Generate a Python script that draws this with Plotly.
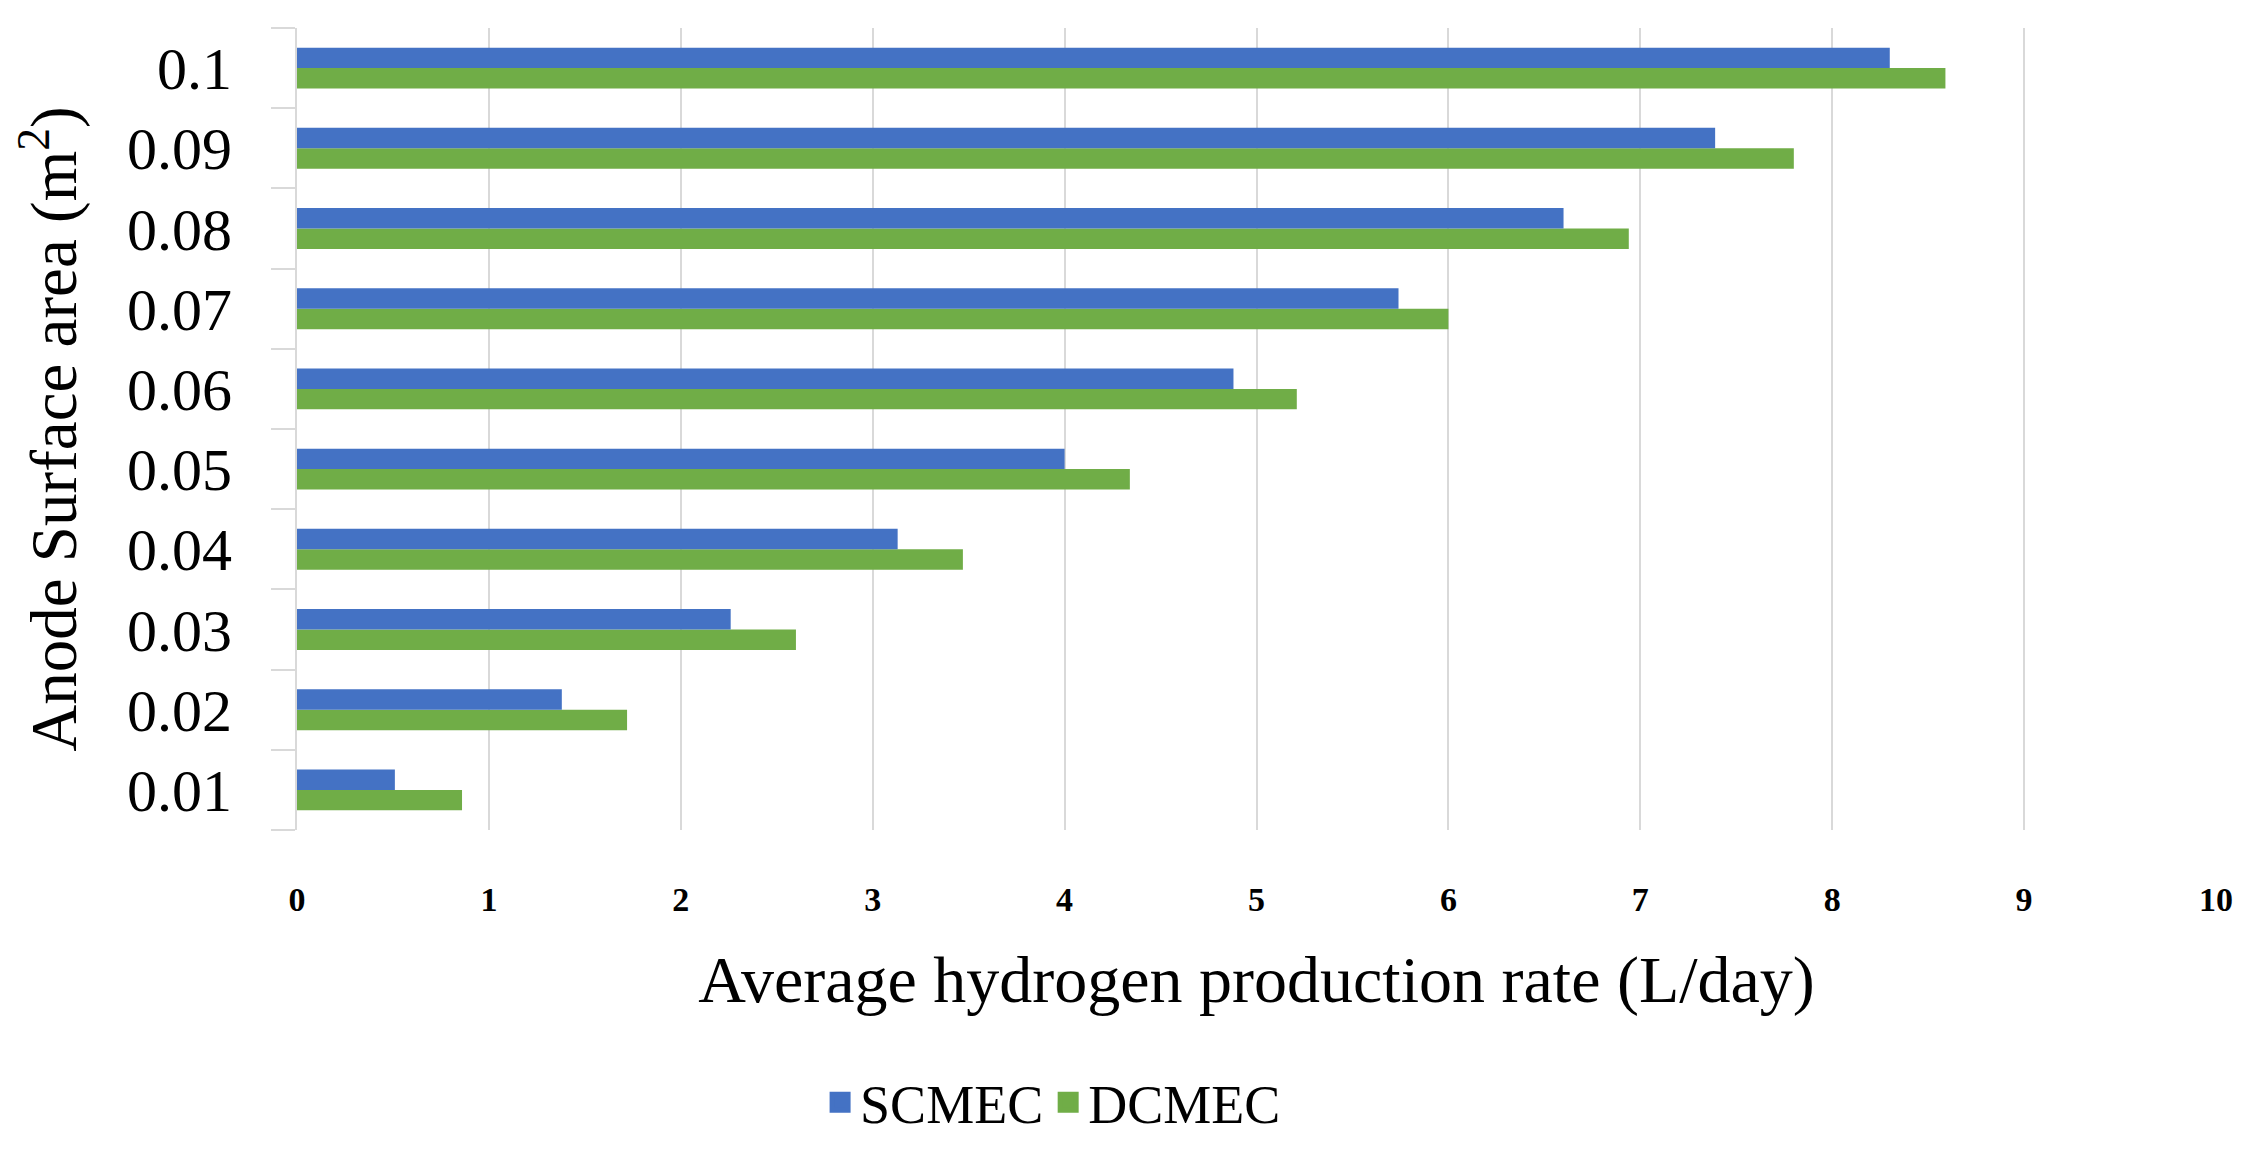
import plotly.graph_objects as go

areas = ["0.01", "0.02", "0.03", "0.04", "0.05", "0.06", "0.07", "0.08", "0.09", "0.1"]
scmec = [0.51, 1.38, 2.26, 3.13, 4.00, 4.88, 5.74, 6.60, 7.39, 8.30]
dcmec = [0.86, 1.72, 2.60, 3.47, 4.34, 5.21, 6.00, 6.94, 7.80, 8.59]
x_ticks = list(range(0, 11))
series_names = ["SCMEC", "DCMEC"]
series_colors = ["#4472C4", "#70AD47"]

SERIF = "Liberation Serif, Times New Roman, serif"

fig = go.Figure()
# bars (green first so that blue sits on top within each group)
fig.add_trace(go.Bar(
    y=areas, x=dcmec, name="DCMEC", orientation="h", showlegend=False,
    marker=dict(color=series_colors[1], line=dict(width=0)),
))
fig.add_trace(go.Bar(
    y=areas, x=scmec, name="SCMEC", orientation="h", showlegend=False,
    marker=dict(color=series_colors[0], line=dict(width=0)),
))
# legend entries with larger square swatches
for name, col in zip(series_names, series_colors):
    fig.add_trace(go.Scatter(
        x=[None], y=[None], mode="markers", name=name,
        marker=dict(symbol="square", size=16, color=col, line=dict(width=5, color=col)),
    ))

# the page body has an 8px default margin, so the figure is offset by 8px
fig.update_layout(
    width=2248, height=1149, autosize=False,
    margin=dict(l=289, r=40, t=20, b=308),
    paper_bgcolor="white", plot_bgcolor="white",
    barmode="group", bargap=0.49, bargroupgap=0,
    font=dict(family=SERIF, color="#000000"),
    legend=dict(
        orientation="h", x=0.394, xanchor="center", y=-0.34, yanchor="middle",
        font=dict(family=SERIF, size=54, color="#000000"),
        itemwidth=30, traceorder="normal",
    ),
    xaxis=dict(
        range=[0, 10], tickvals=x_ticks, ticktext=[str(v) for v in x_ticks],
        showgrid=True, gridcolor="#d9d9d9", gridwidth=2,
        zeroline=False, showline=False, ticks="", automargin=False,
        tickfont=dict(family=SERIF, size=34, color="#000000", weight="bold"),
        ticklabelstandoff=46,
        title=dict(text="Average hydrogen production rate (L/day)",
                   font=dict(family=SERIF, size=66, color="#000000"), standoff=38),
    ),
    yaxis=dict(
        type="category", categoryorder="array", categoryarray=areas,
        showgrid=False, zeroline=False, automargin=False,
        showline=True, linecolor="#d9d9d9", linewidth=2,
        ticks="outside", tickson="boundaries", ticklen=24, tickcolor="#d9d9d9", tickwidth=2,
        tickfont=dict(family=SERIF, size=60, color="#000000"),
        ticklabelstandoff=51,
        title=dict(text="Anode Surface area (m<sup>2</sup>)",
                   font=dict(family=SERIF, size=65, color="#000000"), standoff=48),
    ),
)

fig.write_html("out.html")
